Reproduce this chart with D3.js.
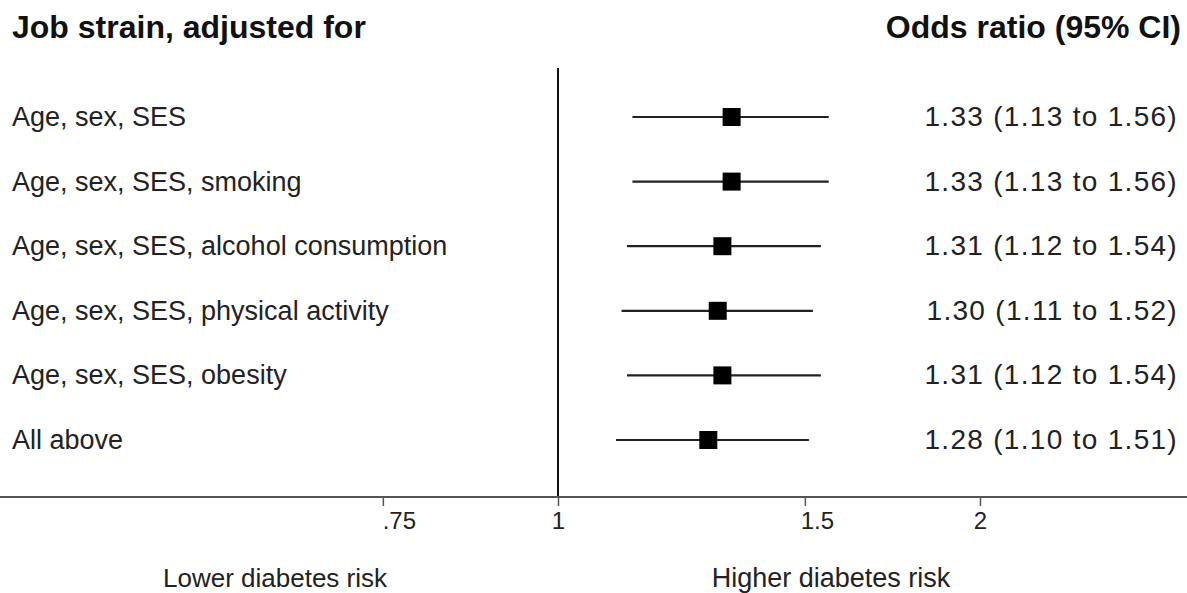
<!DOCTYPE html>
<html><head><meta charset="utf-8">
<script src="https://cdn.jsdelivr.net/npm/d3@7/dist/d3.min.js"></script>
<style>body{margin:0;background:#fff}svg{display:block}text{font-family:"Liberation Sans",Arial,sans-serif}</style>
</head><body><svg id="c" width="1187" height="593"></svg>
<script>
const labels = ["Age, sex, SES","Age, sex, SES, smoking","Age, sex, SES, alcohol consumption","Age, sex, SES, physical activity","Age, sex, SES, obesity","All above"];
const orVals = [1.33,1.33,1.31,1.30,1.31,1.28];
const loVals = [1.13,1.13,1.12,1.11,1.12,1.10];
const hiVals = [1.56,1.56,1.54,1.52,1.54,1.51];
const orText = ["1.33 (1.13 to 1.56)","1.33 (1.13 to 1.56)","1.31 (1.12 to 1.54)","1.30 (1.11 to 1.52)","1.31 (1.12 to 1.54)","1.28 (1.10 to 1.51)"];
const tickVals = [0.75,1,1.5,2];
const tickLabels = [".75","1","1.5","2"];

const svg = d3.select("#c");
const x = d3.scaleLog().domain([1,2]).range([558,980]);
const y = d3.scalePoint().domain(labels).range([117,440]);
const axisY = 497;

// reference line
svg.append("line").attr("x1",x(1)).attr("x2",x(1)).attr("y1",68).attr("y2",axisY)
  .attr("stroke","#111").attr("stroke-width",2);

// axis
const ax = svg.append("g").attr("transform",`translate(0,${axisY})`)
  .call(d3.axisBottom(x).tickValues(tickVals).tickFormat((d,i)=>tickLabels[i]).tickSize(9).tickPadding(6));
ax.select(".domain").remove();
ax.selectAll(".tick line").attr("stroke","#555").attr("stroke-width",1.5);
ax.selectAll(".tick text").attr("font-size",24).attr("fill","#222")
  .attr("font-family","Liberation Sans, Arial, sans-serif")
  .attr("dx",(d)=> d===0.75 ? 16 : d===1.5 ? 12 : 0);
svg.append("line").attr("x1",0).attr("x2",1187).attr("y1",axisY).attr("y2",axisY)
  .attr("stroke","#555").attr("stroke-width",2);

const rows = labels.map((l,i)=>({l,or:orVals[i],lo:loVals[i],hi:hiVals[i],t:orText[i]}));
const g = svg.append("g");
g.selectAll("line.ci").data(rows).join("line").attr("class","ci")
  .attr("x1",d=>x(d.lo)).attr("x2",d=>x(d.hi)).attr("y1",d=>y(d.l)).attr("y2",d=>y(d.l))
  .attr("stroke","#222").attr("stroke-width",2.2);
const s = 18;
g.selectAll("rect").data(rows).join("rect")
  .attr("x",d=>x(d.or)-s/2).attr("y",d=>y(d.l)-s/2).attr("width",s).attr("height",s).attr("fill","#000");

g.selectAll("text.lab").data(rows).join("text").attr("class","lab")
  .attr("x",12).attr("y",d=>y(d.l)+9).attr("font-size",27).attr("fill","#222").text(d=>d.l);
g.selectAll("text.or").data(rows).join("text").attr("class","or")
  .attr("x",1178).attr("y",d=>y(d.l)+9).attr("text-anchor","end").attr("font-size",28)
  .attr("letter-spacing","1.3px").attr("fill","#222").text(d=>d.t);

svg.append("text").attr("x",12).attr("y",38).attr("font-size",32).attr("font-weight","bold").attr("fill","#111").text("Job strain, adjusted for");
svg.append("text").attr("x",1181).attr("y",38).attr("text-anchor","end").attr("font-size",32).attr("font-weight","bold").attr("fill","#111").text("Odds ratio (95% CI)");

svg.append("text").attr("x",275).attr("y",587).attr("text-anchor","middle").attr("font-size",26).attr("fill","#222").text("Lower diabetes risk");
svg.append("text").attr("x",831).attr("y",587).attr("text-anchor","middle").attr("font-size",27).attr("fill","#222").text("Higher diabetes risk");
</script></body></html>
